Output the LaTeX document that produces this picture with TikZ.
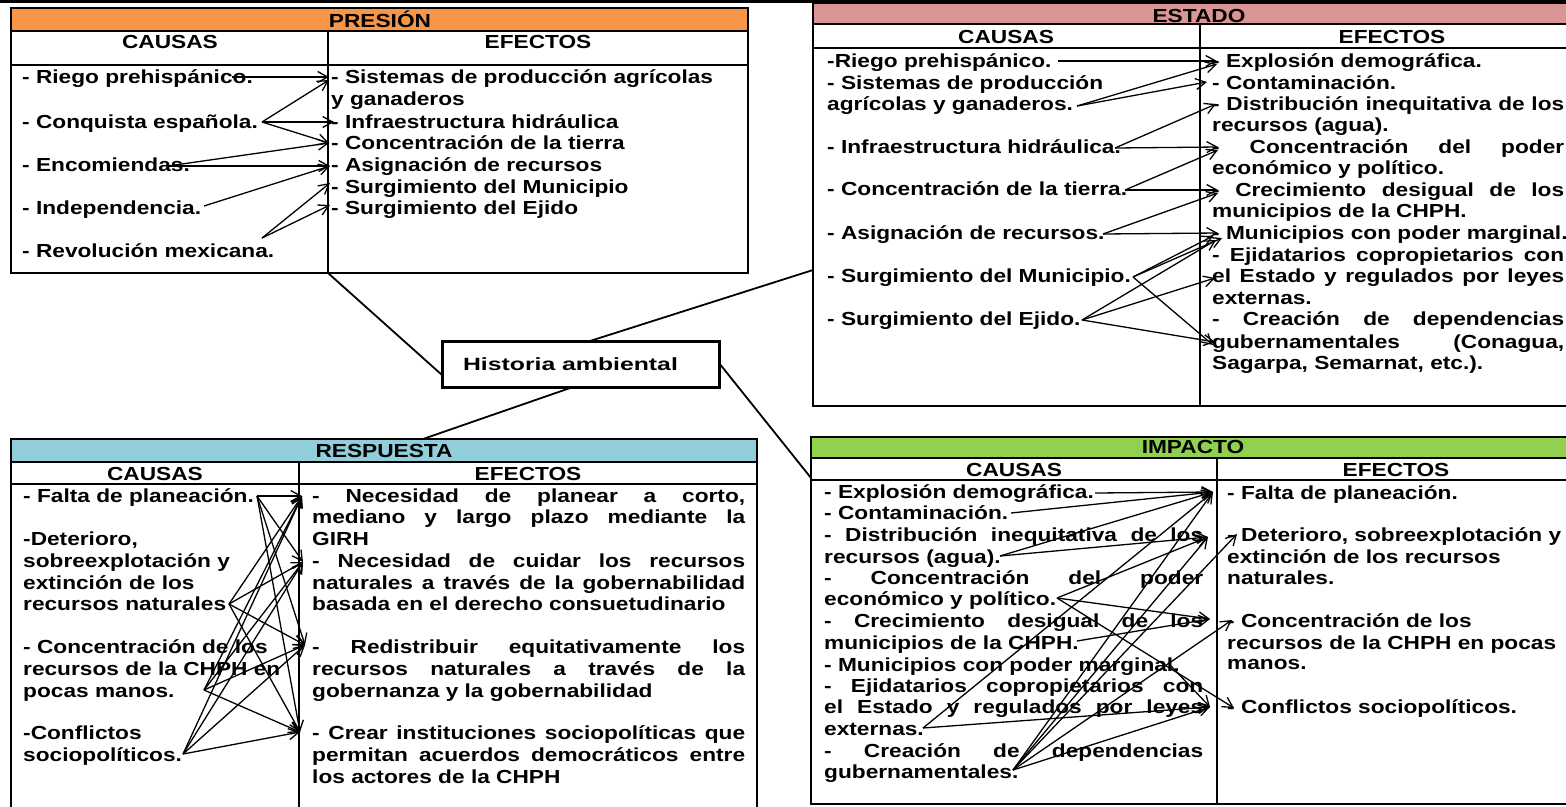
\documentclass[tikz,border=0pt]{standalone}
\usepackage{fontspec}
\setmainfont{Liberation Sans}[FakeStretch=1.2]
\newfontfamily\histfont{Liberation Sans}[FakeStretch=1.4]
\usetikzlibrary{arrows.meta}
\definecolor{presion}{RGB}{247,150,70}
\definecolor{estado}{RGB}{217,150,148}
\definecolor{respuesta}{RGB}{146,205,220}
\definecolor{impacto}{RGB}{146,208,80}
\newcommand{\tfont}{\fontsize{18.9}{21}\selectfont\bfseries}
\newcommand{\TL}[4]{\node[tx] (#1) at (#2,#3) {#4};}
\newcommand{\JL}[5]{\node[tx] (#1) at (#2,#3) {\makebox[#4pt][s]{#5}};}
\begin{document}
\begin{tikzpicture}[x=1pt,y=-1pt,
  tx/.style={anchor=base west,inner sep=0pt,font=\tfont},
  hd/.style={anchor=base,inner sep=0pt,font=\tfont},
  tab/.style={line width=1.8pt},
  arr/.style={line width=1.3pt,-{Straight Barb[length=10pt,width=11pt]}},
  link/.style={line width=1.8pt}]
\useasboundingbox (0,0) rectangle (1566,806);
\clip (0,0) rectangle (1566,806);
% top rule
\draw[line width=3pt] (0,1.5) -- (1566,1.5);

% ================= PRESION table
\fill[presion] (11,8) rectangle (748,31);
\draw[tab] (11,8) rectangle (748,273);
\draw[tab] (11,31) -- (748,31) (11,65) -- (748,65) (328,31) -- (328,273);
\node[hd] (pt) at (380,27) {PRESIÓN};
\node[hd] (pca) at (170,48) {CAUSAS};
\node[hd] (pef) at (538,48) {EFECTOS};
\TL{pc1}{22}{83}{- Riego prehispánico.}
\TL{pc2}{22}{128}{- Conquista española.}
\TL{pc3}{22}{171}{- Encomiendas.}
\TL{pc4}{22}{214}{- Independencia.}
\TL{pc5}{22}{257}{- Revolución mexicana.}
\TL{pe1}{331}{83}{- Sistemas de producción agrícolas}
\TL{pe1b}{331}{105}{y ganaderos}
\TL{pe2}{331}{128}{- Infraestructura hidráulica}
\TL{pe3}{331}{149}{- Concentración de la tierra}
\TL{pe4}{331}{171}{- Asignación de recursos}
\TL{pe5}{331}{193}{- Surgimiento del Municipio}
\TL{pe6}{331}{214}{- Surgimiento del Ejido}
\coordinate (ps1) at (232,77);
\coordinate (ps2) at (262,122);
\coordinate (ps3) at (168,166);
\coordinate (ps4) at (204,206);
\coordinate (ps5) at (262,238);
\coordinate (ptt1) at (329,77);
\coordinate (ptt1b) at (329,80);
\coordinate (ptt2) at (334,122);
\coordinate (ptt3) at (329,143);
\coordinate (ptt4) at (330,166);
\coordinate (ptt5) at (330,183);
\coordinate (ptt6) at (330,205);
\draw[arr] (ps1) -- (ptt1);
\draw[arr] (ps2) -- (ptt1b);
\draw[arr] (ps2) -- (ptt2);
\draw[arr] (ps2) -- (ptt3);
\draw[arr] (ps3) -- (ptt3);
\draw[arr] (ps3) -- (ptt4);
\draw[arr] (ps4) -- (ptt4);
\draw[arr] (ps5) -- (ptt5);
\draw[arr] (ps5) -- (ptt6);

% ================= ESTADO table
\fill[estado] (813,3) rectangle (1585,24);
\draw[tab] (813,3) rectangle (1585,406);
\draw[tab] (813,24) -- (1585,24) (813,48) -- (1585,48) (1200,24) -- (1200,406);
\node[hd] (et) at (1199,22) {ESTADO};
\node[hd] (eca) at (1006,43) {CAUSAS};
\node[hd] (eef) at (1392,43) {EFECTOS};
\TL{ec1}{827}{67}{-Riego prehispánico.}
\TL{ec2}{827}{89}{- Sistemas de producción}
\TL{ec2b}{827}{110}{agrícolas y ganaderos.}
\TL{ec3}{827}{153}{- Infraestructura hidráulica.}
\TL{ec4}{827}{195}{- Concentración de la tierra.}
\TL{ec5}{827}{239}{- Asignación de recursos.}
\TL{ec6}{827}{282}{- Surgimiento del Municipio.}
\TL{ec7}{827}{325}{- Surgimiento del Ejido.}
\TL{ee1}{1212}{67}{- Explosión demográfica.}
\TL{ee2}{1212}{89}{- Contaminación.}
\JL{ee3}{1212}{110}{352}{- Distribución inequitativa de los}
\TL{ee3b}{1212}{131}{recursos (agua).}
\JL{ee4}{1212}{153}{352}{- Concentración del poder}
\TL{ee4b}{1212}{174}{económico y político.}
\JL{ee5}{1212}{196}{352}{- Crecimiento desigual de los}
\TL{ee5b}{1212}{217}{municipios de la CHPH.}
\TL{ee6}{1212}{239}{- Municipios con poder marginal.}
\JL{ee7}{1212}{261}{352}{- Ejidatarios copropietarios con}
\JL{ee7b}{1212}{282}{352}{el Estado y regulados por leyes}
\TL{ee7c}{1212}{304}{externas.}
\JL{ee8}{1212}{325}{352}{- Creación de dependencias}
\JL{ee8b}{1212}{348}{352}{gubernamentales (Conagua,}
\TL{ee8c}{1212}{369}{Sagarpa, Semarnat, etc.).}
\coordinate (es1) at (1058,61);
\coordinate (es2) at (1077,106);
\coordinate (es3) at (1115,148);
\coordinate (es4) at (1125,190);
\coordinate (es5) at (1103,234);
\coordinate (es6) at (1133,277);
\coordinate (es7) at (1082,320);
\coordinate (ett1) at (1217,61);
\coordinate (ett1b) at (1217,64);
\coordinate (ett2) at (1207,82);
\coordinate (ett3) at (1216,104);
\coordinate (ett4) at (1218,147);
\coordinate (ett4b) at (1218,150);
\coordinate (ett5) at (1218,190);
\coordinate (ett5b) at (1218,193);
\coordinate (ett6) at (1218,233);
\coordinate (ett6b) at (1213,236);
\coordinate (ett6c) at (1222,238);
\coordinate (ett6d) at (1216,240);
\coordinate (ett7) at (1215,278);
\coordinate (ett8) at (1215,342);
\coordinate (ett8b) at (1213,345);
\draw[arr] (es1) -- (ett1);
\draw[arr] (es2) -- (ett1b);
\draw[arr] (es2) -- (ett2);
\draw[arr] (es3) -- (ett3);
\draw[arr] (es3) -- (ett4);
\draw[arr] (es4) -- (ett4b);
\draw[arr] (es4) -- (ett5);
\draw[arr] (es5) -- (ett5b);
\draw[arr] (es5) -- (ett6);
\draw[arr] (es6) -- (ett6b);
\draw[arr] (es6) -- (ett6c);
\draw[arr] (es6) -- (ett8b);
\draw[arr] (es7) -- (ett6d);
\draw[arr] (es7) -- (ett7);
\draw[arr] (es7) -- (ett8);

% ================= RESPUESTA table
\fill[respuesta] (11,439) rectangle (757,462);
\draw[tab] (11,830) -- (11,439) -- (757,439) -- (757,830);
\draw[tab] (11,462) -- (757,462) (11,484) -- (757,484) (299,462) -- (299,830);
\node[hd] (rt) at (384,457) {RESPUESTA};
\node[hd] (rca) at (155,480) {CAUSAS};
\node[hd] (ref) at (528,480) {EFECTOS};
\TL{rc1}{23}{502}{- Falta de planeación.}
\TL{rc2}{23}{545}{-Deterioro,}
\TL{rc2b}{23}{567}{sobreexplotación y}
\TL{rc2c}{23}{589}{extinción de los}
\TL{rc2d}{23}{610}{recursos naturales}
\TL{rc3}{23}{653}{- Concentración de los}
\TL{rc3b}{23}{675}{recursos de la CHPH en}
\TL{rc3c}{23}{697}{pocas manos.}
\TL{rc4}{23}{739}{-Conflictos}
\TL{rc4b}{23}{761}{sociopolíticos.}
\JL{re1}{312}{502}{433}{- Necesidad de planear a corto,}
\JL{re1b}{312}{523}{433}{mediano y largo plazo mediante la}
\TL{re1c}{312}{545}{GIRH}
\JL{re2}{312}{567}{433}{- Necesidad de cuidar los recursos}
\JL{re2b}{312}{589}{433}{naturales a través de la gobernabilidad}
\TL{re2c}{312}{610}{basada en el derecho consuetudinario}
\JL{re3}{312}{653}{433}{- Redistribuir equitativamente los}
\JL{re3b}{312}{675}{433}{recursos naturales a través de la}
\TL{re3c}{312}{697}{gobernanza y la gobernabilidad}
\JL{re4}{312}{739}{433}{- Crear instituciones sociopolíticas que}
\JL{re4b}{312}{761}{433}{permitan acuerdos democráticos entre}
\TL{re4c}{312}{783}{los actores de la CHPH}
\coordinate (rs1) at (257,496);
\coordinate (rs2) at (229,604);
\coordinate (rs3) at (204,690);
\coordinate (rs4) at (183,754);
\coordinate (rtt1) at (302,496);
\coordinate (rtt2) at (303,562);
\coordinate (rtt3) at (305,645);
\coordinate (rtt4) at (300,732);
\foreach \s in {1,...,4}{\foreach \t in {1,...,4}{\draw[arr] (rs\s) -- (rtt\t);}}

% ================= IMPACTO table
\fill[impacto] (811,437) rectangle (1575,458);
\draw[tab] (811,437) rectangle (1575,804);
\draw[tab] (811,458) -- (1575,458) (811,480) -- (1575,480) (1217,458) -- (1217,804);
\node[hd] (it) at (1193,453) {IMPACTO};
\node[hd] (ica) at (1014,476) {CAUSAS};
\node[hd] (ief) at (1396,476) {EFECTOS};
\TL{ic1}{824}{498}{- Explosión demográfica.}
\TL{ic2}{824}{519}{- Contaminación.}
\JL{ic3}{824}{541}{379}{- Distribución inequitativa de los}
\TL{ic3b}{824}{563}{recursos (agua).}
\JL{ic4}{824}{584}{379}{- Concentración del poder}
\TL{ic4b}{824}{605}{económico y político.}
\JL{ic5}{824}{627}{379}{- Crecimiento desigual de los}
\TL{ic5b}{824}{649}{municipios de la CHPH.}
\TL{ic6}{824}{671}{- Municipios con poder marginal.}
\JL{ic7}{824}{692}{379}{- Ejidatarios copropietarios con}
\JL{ic7b}{824}{713}{379}{el Estado y regulados por leyes}
\TL{ic7c}{824}{735}{externas.}
\JL{ic8}{824}{757}{379}{- Creación de dependencias}
\TL{ic8b}{824}{778}{gubernamentales.}
\TL{ie1}{1227}{499}{- Falta de planeación.}
\TL{ie2}{1227}{541}{- Deterioro, sobreexplotación y}
\TL{ie2b}{1227}{563}{extinción de los recursos}
\TL{ie2c}{1227}{584}{naturales.}
\TL{ie3}{1227}{627}{- Concentración de los}
\TL{ie3b}{1227}{649}{recursos de la CHPH en pocas}
\TL{ie3c}{1227}{669}{manos.}
\TL{ie4}{1227}{713}{- Conflictos sociopolíticos.}
\coordinate (is1) at (1095,493);
\coordinate (is2) at (1011,513);
\coordinate (is3) at (1000,556);
\coordinate (is4) at (1057,598);
\coordinate (is5) at (1077,641);
\coordinate (is6) at (1170,665);
\coordinate (is7) at (923,728);
\coordinate (is8) at (1013,770);
\coordinate (itA) at (1213,492);
\coordinate (itB) at (1208,537);
\coordinate (itB2) at (1237,534);
\coordinate (itC) at (1210,619);
\coordinate (itC2) at (1232,620);
\coordinate (itD) at (1210,707);
\coordinate (itD2) at (1234,708);
\draw[arr] (is1) -- (itA);
\draw[arr] (is2) -- (itA);
\draw[arr] (is3) -- (itA);
\draw[arr] (is3) -- (itB);
\draw[arr] (is4) -- (itB);
\draw[arr] (is4) -- (itC);
\draw[arr] (is4) -- (itD2);
\draw[arr] (is5) -- (itC);
\draw[arr] (is6) -- (itD);
\draw[arr] (is7) -- (itA);
\draw[arr] (is7) -- (itD);
\draw[arr] (is8) -- (itA);
\draw[arr] (is8) -- (itB);
\draw[arr] (is8) -- (itB2);
\draw[arr] (is8) -- (itC2);
\draw[arr] (is8) -- (itD);

% ================= central node and links
\coordinate (jP) at (328,273);
\coordinate (jE) at (813,270);
\coordinate (jR) at (423,439);
\coordinate (jI) at (811,478);
\coordinate (hP) at (442,375);
\coordinate (hE) at (590,341);
\coordinate (hR) at (573,387);
\coordinate (hI) at (719,363);
\draw[link] (jP) -- (hP);
\draw[link] (jE) -- (hE);
\draw[link] (jR) -- (hR);
\draw[link] (jI) -- (hI);
\node[draw, fill=white, line width=3pt, minimum width=277pt, minimum height=46pt, inner sep=0pt] (hist) at (580.5,364)
  {\histfont\fontsize{17.7}{20}\selectfont\bfseries\hspace*{-20pt}Historia ambiental};
\end{tikzpicture}
\end{document}
